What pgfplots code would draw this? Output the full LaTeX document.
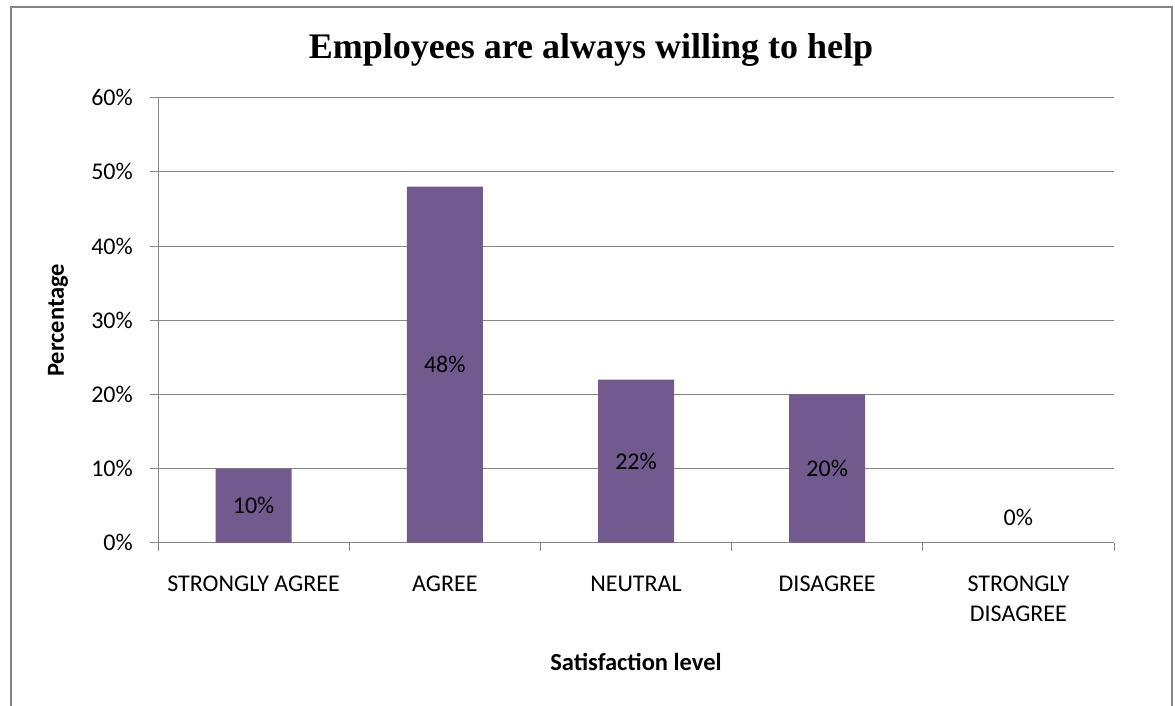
\documentclass[border=0pt]{standalone}
\usepackage{fontspec}
\setmainfont{Carlito}
\newfontfamily\titlefont{Liberation Serif}
\usepackage{pgfplots}
\pgfplotsset{compat=1.18}
\definecolor{barpurple}{RGB}{114,89,142}
\definecolor{gridgray}{RGB}{134,134,134}
\begin{document}
\begin{tikzpicture}
\useasboundingbox (0,0) rectangle (1175pt,-705pt);
\draw[gridgray, line width=1.5pt] (11pt,-707pt) -- (11pt,-7pt) -- (1172pt,-7pt) -- (1172pt,-707pt);
\begin{axis}[
  at={(158pt,-542.7pt)}, anchor=south west,
  scale only axis, width=956pt, height=445pt,
  xmin=-0.5, xmax=4.5, ymin=0, ymax=60,
  /pgf/number format/assume math mode=true,
  axis lines*=left,
  axis line style={gridgray, line width=1pt, -},
  tick align=outside,
  major tick length=8pt,
  tick style={gridgray, line width=1pt},
  ytick={0,10,...,60},
  yticklabels={0\%,10\%,20\%,30\%,40\%,50\%,60\%},
  ymajorgrids,
  major grid style={gridgray, line width=1pt},
  xtick={-0.5,0.5,...,4.5},
  x tick label as interval,
  xticklabels={STRONGLY AGREE, AGREE, NEUTRAL, DISAGREE, {STRONGLY\\DISAGREE}},
  xticklabel style={font=\fontsize{24}{30}\selectfont, align=center, anchor=north, inner sep=0pt, yshift=-25pt},
  yticklabel style={font=\fontsize{24}{30}\selectfont, anchor=east, inner sep=0pt, xshift=-17pt},
  xlabel={Satisfaction level},
  ylabel={Percentage},
  every axis x label/.style={at={(axis description cs:0.5,0)}, anchor=center, yshift=-119.3pt, font=\bfseries\fontsize{24.5}{30}\selectfont},
  every axis y label/.style={at={(axis description cs:0,0.5)}, rotate=90, anchor=center, yshift=100pt, font=\bfseries\fontsize{24.5}{30}\selectfont},
  title={Employees are always willing to help},
  title style={at={(axis description cs:0.5,1)}, anchor=base, xshift=-45pt, yshift=33pt, font=\titlefont\bfseries\fontsize{36}{40}\selectfont},
  clip=false,
]
\addplot[ybar, bar shift=0pt, bar width=76pt, fill=barpurple, draw=none,
  nodes near coords={\pgfmathprintnumber{\pgfplotspointmeta}\%},
  visualization depends on=y \as \rawy,
  nodes near coords style={font=\fontsize{24}{30}\selectfont, text=black, anchor=center, shift={(axis direction cs:0,-\rawy/2)}}]
  coordinates {(0,10) (1,48) (2,22) (3,20)};
\addplot[ybar, bar shift=0pt, bar width=76pt, fill=none, draw=none,
  nodes near coords={\pgfmathprintnumber{\pgfplotspointmeta}\%},
  nodes near coords style={font=\fontsize{24}{30}\selectfont, text=black, anchor=center, yshift=25pt}]
  coordinates {(4,0)};
\end{axis}
\end{tikzpicture}
\end{document}
